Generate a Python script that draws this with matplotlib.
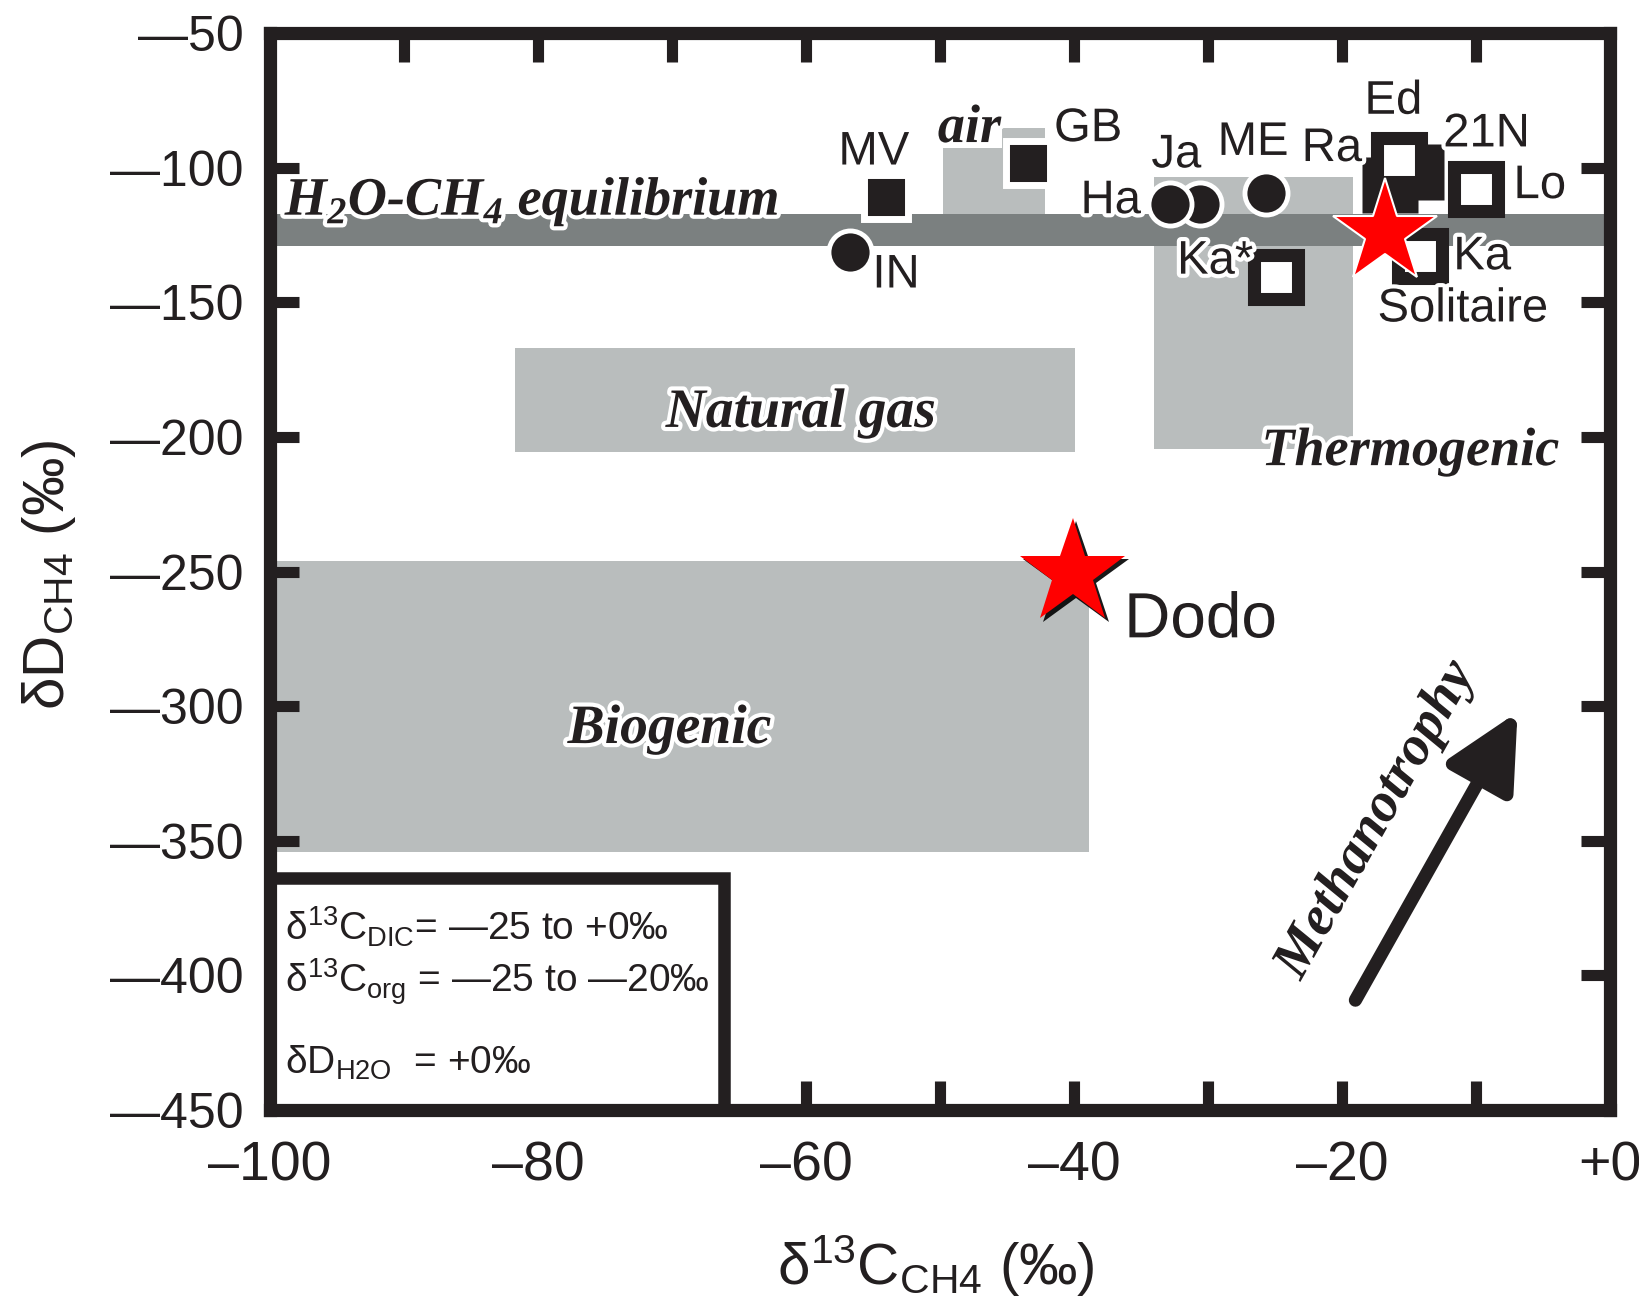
import matplotlib
matplotlib.use("Agg")
import matplotlib.pyplot as plt
import matplotlib.patheffects as pe
from matplotlib.patches import Rectangle, Polygon

plt.rcParams['mathtext.fontset'] = 'custom'
plt.rcParams['mathtext.rm'] = 'Liberation Sans'
plt.rcParams['mathtext.it'] = 'Liberation Sans:italic'
plt.rcParams['mathtext.bf'] = 'Liberation Sans:bold'
plt.rcParams['mathtext.bfit'] = 'Liberation Serif:italic:bold'
plt.rcParams['font.family'] = ['Liberation Sans', 'DejaVu Sans']

# ---------------- data ----------------
x_major = [-100, -80, -60, -40, -20, 0]
x_major_labels = ['–100', '–80', '–60', '–40', '–20', '+0']
x_minor = [-90, -70, -50, -30, -10]
y_major = [-450, -400, -350, -300, -250, -200, -150, -100, -50]
y_major_labels = ['—450', '—400', '—350', '—300', '—250', '—200', '—150', '—100', '—50']

# source fields: x0, x1, y0, y1
field_names = ['Biogenic', 'Natural gas', 'Thermogenic']
field_x0 = [-100.0, -81.7, -34.0]
field_x1 = [-38.9, -39.9, -19.2]
field_y0 = [-354.2, -205.6, -204.5]
field_y1 = [-246.1, -167.0, -103.5]

# atmospheric methane field (stepped top)
air_x = [-49.8, -45.4, -42.2]
air_top = [-92.8, -85.3]
air_bottom = -117.2

# H2O-CH4 equilibrium band
eq_low, eq_high = -129.1, -117.2

# vent fluids
circ_names = ['IN', 'Ja', 'Ha', 'ME']
circ_x = [-56.7, -30.6, -32.8, -25.7]
circ_y = [-131.3, -113.5, -113.5, -109.4]

sq_fill_names = ['MV', 'GB']
sq_fill_x = [-54.0, -43.4]
sq_fill_y = [-110.9, -98.1]

sq_big_fill_names = ['21N', 'Ra']
sq_big_fill_x = [-14.5, -16.4]
sq_big_fill_y = [-101.6, -106.5]

sq_open_names = ['Ed', 'Lo', 'Ka', 'Ka*']
sq_open_x = [-15.75, -10.0, -14.2, -24.9]
sq_open_y = [-97.2, -107.9, -132.8, -140.6]

star_names = ['Solitaire', 'Dodo']
star_x = [-16.8, -40.1]
star_y = [-124.3, -250.6]

# label offsets (points)
label_offsets = {
    'MV': (-9, 32), 'GB': (43, 24), 'IN': (33, -17), 'Ha': (-43, 2),
    'Ja': (-17, 35), 'ME': (-9, 36), 'Ra': (-42, 26), 'Ed': (-4, 42),
    '21N': (51, 27), 'Lo': (46, 2), 'Ka': (45, -1), 'Ka*': (-44, 11),
    'Solitaire': (56, -55), 'Dodo': (92, -34),
}

# ---------------- style ----------------
BLACK = '#231f20'
LGRAY = '#b9bdbd'
DGRAY = '#7b8080'
RED = '#ff0000'
halo = [pe.withStroke(linewidth=6, foreground='white')]
serif_bi = dict(family=['Liberation Serif', 'DejaVu Serif'], weight='bold', style='italic')

fig = plt.figure(figsize=(16.4, 13), dpi=100)
ax = fig.add_axes([270 / 1640, 1 - 1110 / 1300, 1340 / 1640, 1077 / 1300])
ax.set_xlim(-100, 0)
ax.set_ylim(-450, -50)

# fields
for x0, x1, y0, y1 in zip(field_x0, field_x1, field_y0, field_y1):
    ax.add_patch(Rectangle((x0, y0), x1 - x0, y1 - y0, facecolor=LGRAY,
                           edgecolor='none', zorder=1))
air_poly = [(air_x[0], air_bottom), (air_x[0], air_top[0]), (air_x[1], air_top[0]),
            (air_x[1], air_top[1]), (air_x[2], air_top[1]), (air_x[2], air_bottom)]
ax.add_patch(Polygon(air_poly, closed=True, facecolor=LGRAY, edgecolor='none', zorder=1))
ax.axhspan(eq_low, eq_high, facecolor=DGRAY, edgecolor='none', zorder=1.2)

# field labels
ax.text(-60.4, -196.3, 'Natural gas', fontsize=40, color=BLACK, ha='center',
        va='baseline', path_effects=halo, zorder=3, **serif_bi)
ax.text(-70.2, -313.7, 'Biogenic', fontsize=40, color=BLACK, ha='center',
        va='baseline', path_effects=halo, zorder=3, **serif_bi)
ax.text(-14.9, -210.5, 'Thermogenic', fontsize=39, color=BLACK, ha='center',
        va='baseline', path_effects=halo, zorder=3, **serif_bi)
ax.text(-47.8, -90.5, 'air', fontsize=39, color=BLACK, ha='center',
        va='baseline', path_effects=halo, zorder=3, **serif_bi)
ax.text(-98.9, -117.6, r'H$_{\mathbfit{2}}$O-CH$_{\mathbfit{4}}$ equilibrium',
        fontsize=39, color=BLACK, ha='left', va='baseline', path_effects=halo,
        zorder=3, **serif_bi)

# markers
ax.plot(sq_fill_x, sq_fill_y, ls='none', marker='s', ms=32, mfc=BLACK,
        mec='white', mew=5, zorder=4)
for x, y in zip(circ_x, circ_y):
    ax.plot([x], [y], ls='none', marker='o', ms=31, mfc=BLACK, mec='white',
            mew=3.5, zorder=4)
ax.plot(sq_big_fill_x, sq_big_fill_y, ls='none', marker='s', ms=41, mfc=BLACK,
        mec='none', zorder=4)
for x, y in zip(sq_open_x, sq_open_y):
    ax.plot([x], [y], ls='none', marker='s', ms=31.7, mfc='white', mec=BLACK,
            mew=9.4, zorder=4)
ax.plot([star_x[0]], [star_y[0]], ls='none', marker='*', ms=79, mfc=RED,
        mec='white', mew=1.5, zorder=5)
ax.plot([star_x[1]], [star_y[1]], ls='none', marker='*', ms=80, mfc=RED,
        mec='none', zorder=5,
        path_effects=[pe.SimplePatchShadow(offset=(2.5, -2.5), shadow_rgbFace='black',
                                           alpha=0.9), pe.Normal()])

# point labels
all_names = circ_names + sq_fill_names + sq_big_fill_names + sq_open_names + star_names
all_x = circ_x + sq_fill_x + sq_big_fill_x + sq_open_x + star_x
all_y = circ_y + sq_fill_y + sq_big_fill_y + sq_open_y + star_y
for n, x, y in zip(all_names, all_x, all_y):
    fs = 46 if n == 'Dodo' else 34
    ax.annotate(n, (x, y), xytext=label_offsets[n], textcoords='offset points',
                ha='center', va='center', fontsize=fs, color=BLACK,
                path_effects=halo, zorder=6)

# methanotrophy arrow
arrow_tail = (-19.0, -409.2)
arrow_tip = (-6.9, -302.2)
ax.annotate('', xy=arrow_tip, xytext=arrow_tail,
            arrowprops=dict(arrowstyle='-|>,head_length=1.5,head_width=0.75',
                            mutation_scale=30, lw=9.5, color=BLACK,
                            shrinkA=0, shrinkB=0), zorder=5)
ax.text(-17.5, -342.3, 'Methanotrophy', rotation=60.6, rotation_mode='anchor',
        ha='center', va='center', fontsize=40, color=BLACK, path_effects=halo,
        zorder=5, **serif_bi)

# inset box with parameters
ax.add_patch(Rectangle((-100, -450), 33.9, 86.2, facecolor='white', edgecolor=BLACK,
                       lw=9, zorder=3.5, clip_on=False))
ax.text(-98.9, -387.0, r'δ$^{13}$C$_{\mathrm{DIC}}$= —25 to +0‰', fontsize=28,
        color=BLACK, ha='left', va='baseline', zorder=4)
ax.text(-98.9, -406.5, r'δ$^{13}$C$_{\mathrm{org}}$ = —25 to —20‰', fontsize=28,
        color=BLACK, ha='left', va='baseline', zorder=4)
ax.text(-98.9, -436.5, r'δD$_{\mathrm{H2O}}$  = +0‰', fontsize=28,
        color=BLACK, ha='left', va='baseline', zorder=4)

# axes styling
for s in ax.spines.values():
    s.set_linewidth(9.5)
    s.set_color(BLACK)
    s.set_zorder(7)
ax.set_xticks(x_major)
ax.set_xticklabels(x_major_labels, family=['Liberation Sans Narrow', 'Liberation Sans'],
                   fontsize=40)
ax.set_xticks(x_minor, minor=True)
ax.set_yticks(y_major)
ax.set_yticklabels(y_major_labels, fontsize=36)
ax.tick_params(which='both', direction='in', length=21, width=8, color=BLACK,
               top=True, right=True, labelcolor=BLACK)
ax.tick_params(axis='x', pad=22)
ax.tick_params(axis='y', pad=19)

fig.text(936 / 1640, 1 - 1266 / 1300, r'δ$^{13}$C$_{\mathrm{CH4}}$ (‰)', fontsize=42,
         color=BLACK, ha='center', va='center')
fig.text(49 / 1640, 1 - 575 / 1300, r'δD$_{\mathrm{CH4}}$ (‰)', fontsize=42,
         color=BLACK, ha='center', va='center', rotation=90)

fig.savefig('out.png', dpi=100)
